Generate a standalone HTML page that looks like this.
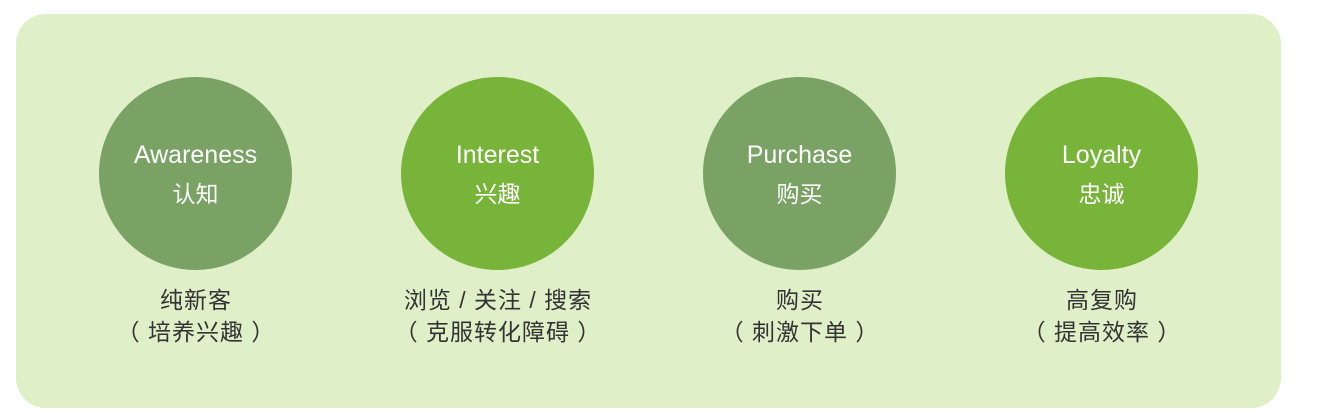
<!DOCTYPE html>
<html><head><meta charset="utf-8"><style>
body{margin:0;width:1325px;height:420px;background:#fff;position:relative;overflow:hidden;font-family:"Liberation Sans","Noto Sans CJK SC",sans-serif}
.bg{position:absolute;left:16px;top:14px;width:1265px;height:394px;background:#dff0c8;border-radius:30px}
.c{position:absolute;top:77px;width:193px;height:193px;border-radius:50%;color:#fff;text-align:center}
.c .en{position:absolute;top:63px;left:0;right:0;font-size:25px;line-height:30px}
.c .zh{position:absolute;top:104px;left:0;right:0;font-size:23px;line-height:26px}
.d{background:#7ba265}.b{background:#79b43a}
.t{position:absolute;top:284px;width:300px;text-align:center;color:#333;font-size:23px;line-height:32px;letter-spacing:1px}
</style></head><body>
<div class="bg"></div>
<div class="c d" style="left:99px"><div class="en">Awareness</div><div class="zh">认知</div></div>
<div class="c b" style="left:401px"><div class="en">Interest</div><div class="zh">兴趣</div></div>
<div class="c d" style="left:703px"><div class="en">Purchase</div><div class="zh">购买</div></div>
<div class="c b" style="left:1005px"><div class="en">Loyalty</div><div class="zh">忠诚</div></div>
<div class="t" style="left:46px">纯新客<br>（ 培养兴趣 ）</div>
<div class="t" style="left:348px">浏览 / 关注 / 搜索<br>（ 克服转化障碍 ）</div>
<div class="t" style="left:650px">购买<br>（ 刺激下单 ）</div>
<div class="t" style="left:952px">高复购<br>（ 提高效率 ）</div>
</body></html>
